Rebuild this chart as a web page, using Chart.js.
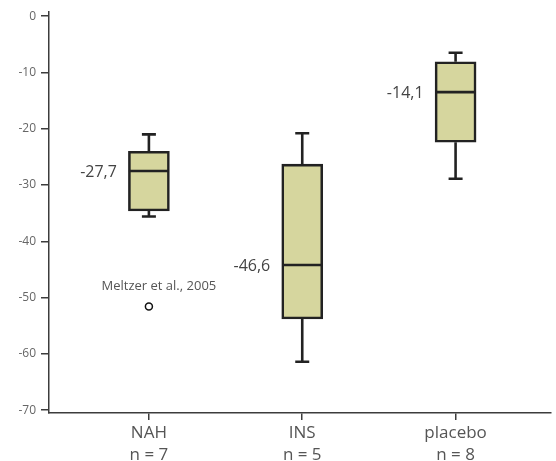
<!DOCTYPE html>
<html>
<head>
<meta charset="utf-8">
<script src="https://cdn.jsdelivr.net/npm/chart.js@4"></script>
<style>
  html, body { margin: 0; padding: 0; background: #fff; overflow: hidden; }
  #wrap { width: 556px; height: 461px; }
  canvas { display: block; }
</style>
</head>
<body>
<div id="wrap"><canvas id="boxChart"></canvas></div>
<script>
// groups on the x axis
const groups = ['NAH', 'INS', 'placebo'];
const groupSizes = ['n = 7', 'n = 5', 'n = 8'];
const groupPos = [1, 2, 3];

// box plot values
const whiskerHigh = [-21.0, -20.8, -6.5];
const q3 = [-24.0, -26.3, -8.1];
const median = [-27.5, -44.2, -13.5];
const q1 = [-34.6, -53.8, -22.4];
const whiskerLow = [-35.6, -61.4, -28.9];
const medianLabels = ['-27,7', '-46,6', '-14,1'];

// single outlier
const outlier = [{ x: 1, y: -51.6 }];
const outlierLabel = 'Meltzer et al., 2005';

const yTicks = [-70, -60, -50, -40, -30, -20, -10, 0];

const boxFill = '#d6d69e';
const boxLine = '#222222';
const axisColor = '#3c3c3c';

const boxData = groupPos.map((x, i) => ({ x: x, y: [q1[i], q3[i]] }));

// whiskers, medians and text drawn through the scales
const boxExtras = {
    id: 'boxExtras',
    afterDatasetsDraw(chart) {
        const ctx = chart.ctx;
        const xs = chart.scales.x;
        const ys = chart.scales.y;
        const half = 20;
        const cap = 7;
        ctx.save();
        ctx.strokeStyle = boxLine;
        ctx.lineWidth = 2.6;
        ctx.lineCap = 'butt';
        groupPos.forEach((g, i) => {
            const cx = xs.getPixelForValue(g);
            const yHi = ys.getPixelForValue(whiskerHigh[i]);
            const yQ3 = ys.getPixelForValue(q3[i]);
            const yQ1 = ys.getPixelForValue(q1[i]);
            const yLo = ys.getPixelForValue(whiskerLow[i]);
            const yMed = ys.getPixelForValue(median[i]);

            ctx.beginPath();
            ctx.moveTo(cx, yQ3); ctx.lineTo(cx, yHi);
            ctx.moveTo(cx - cap, yHi); ctx.lineTo(cx + cap, yHi);
            ctx.moveTo(cx, yQ1); ctx.lineTo(cx, yLo);
            ctx.moveTo(cx - cap, yLo); ctx.lineTo(cx + cap, yLo);
            ctx.moveTo(cx - half, yMed); ctx.lineTo(cx + half, yMed);
            ctx.stroke();

            ctx.fillStyle = '#444';
            ctx.font = '16px "Open Sans"';
            ctx.textAlign = 'right';
            ctx.textBaseline = 'middle';
            ctx.fillText(medianLabels[i], cx - half - 12, yMed + 1);
        });

        // outlier annotation
        const ox = xs.getPixelForValue(outlier[0].x);
        const oy = ys.getPixelForValue(outlier[0].y);
        ctx.fillStyle = '#555';
        ctx.font = '13px "Open Sans"';
        ctx.textAlign = 'center';
        ctx.textBaseline = 'middle';
        ctx.fillText(outlierLabel, ox + 10, oy - 20);
        ctx.restore();
    }
};

new Chart(document.getElementById('boxChart'), {
    type: 'bar',
    data: {
        datasets: [{
            data: boxData,
            backgroundColor: boxFill,
            borderColor: boxLine,
            borderWidth: 2.6,
            borderSkipped: false,
            barThickness: 41
        }, {
            type: 'scatter',
            data: outlier,
            pointRadius: 3.5,
            pointBackgroundColor: '#fff',
            pointBorderColor: '#111',
            pointBorderWidth: 1.5
        }]
    },
    options: {
        responsive: true,
        maintainAspectRatio: false,
        animation: false,
        layout: { padding: { top: 12, right: 0, left: 0, bottom: 0 } },
        plugins: {
            legend: { display: false },
            tooltip: { enabled: false }
        },
        scales: {
            x: {
                type: 'linear',
                offset: false,
                min: 0.3485,
                max: 3.619,
                afterBuildTicks: (axis) => { axis.ticks = groupPos.map(v => ({ value: v })); },
                afterFit: (axis) => { axis.height = 48; },
                grid: { offset: false, drawOnChartArea: false, drawTicks: true, tickLength: 7, color: axisColor, lineWidth: 1.5 },
                border: { color: axisColor, width: 1.5 },
                ticks: {
                    autoSkip: false,
                    maxRotation: 0,
                    padding: 2,
                    color: '#555',
                    font: { family: 'Open Sans', size: 17, lineHeight: 1.3 },
                    callback: (v) => {
                        const i = groupPos.indexOf(v);
                        return i >= 0 ? [groups[i], groupSizes[i]] : '';
                    }
                }
            },
            y: {
                min: -70.5,
                max: 0.7,
                afterBuildTicks: (axis) => { axis.ticks = yTicks.map(v => ({ value: v })); },
                afterFit: (axis) => { axis.width = 49; },
                grid: { drawOnChartArea: false, drawTicks: true, tickLength: 8, color: axisColor, lineWidth: 1.5 },
                border: { color: axisColor, width: 1.5 },
                ticks: {
                    padding: 5,
                    color: '#666',
                    font: { family: 'Open Sans', size: 12 }
                }
            }
        }
    },
    plugins: [boxExtras]
});
</script>
</body>
</html>
